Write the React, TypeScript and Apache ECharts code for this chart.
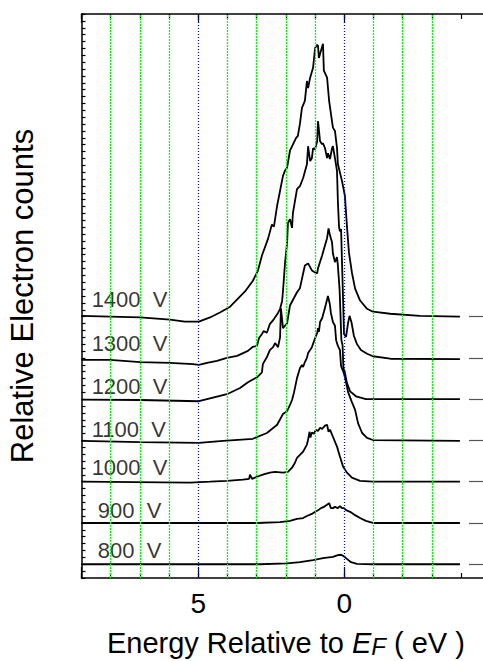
import React, { useEffect, useRef } from 'react';
import * as echarts from 'echarts';

// Accelerating voltages (bottom to top)
const voltages = ['800', '900', '1000', '1100', '1200', '1300', '1400'];
const labelTexts = [
  '\u00a0800\u00a0\u00a0V',
  '\u00a0900\u00a0\u00a0V',
  '1000\u00a0\u00a0V',
  '1100\u00a0\u00a0V',
  '1200\u00a0\u00a0V',
  '1300\u00a0\u00a0V',
  '1400\u00a0\u00a0V',
];
// label height above each baseline (relative counts)
const labelHeights = [33, 31, 34, 27, 30, 34, 41];

// Spectra: [energy relative to E_F (eV), relative counts above own baseline]
const s800 = [[9.0,0],[2.89,0],[1.96,2],[1.52,5],[1.07,10],[0.73,15],[0.39,18],[0.22,22],[0.11,23],[0.01,19],[-0.09,13],[-0.23,5],[-0.43,1],[-0.98,0],[-3.96,0]];
const s900 = [[9.0,0],[2.99,0],[2.2,2],[1.86,5],[1.62,10],[1.41,12],[1.28,17],[1.11,22],[1.0,27],[0.9,31],[0.8,36],[0.7,39],[0.59,44],[0.52,48],[0.46,36],[0.39,36],[0.32,39],[0.22,36],[0.15,41],[0.08,36],[0.01,36],[-0.06,31],[-0.2,27],[-0.37,19],[-0.54,12],[-0.74,5],[-0.98,0],[-3.96,0]];
const s1000 = [[9.0,0],[5.28,-2],[4.6,0],[4.02,2],[3.47,5],[3.26,7],[3.23,17],[3.16,7],[2.99,12],[2.79,17],[2.55,22],[2.37,24],[2.1,22],[1.93,24],[1.79,34],[1.69,46],[1.62,58],[1.52,65],[1.41,73],[1.28,90],[1.24,102],[1.19,121],[1.16,107],[1.11,119],[1.04,116],[0.97,126],[0.9,123],[0.83,131],[0.76,128],[0.66,136],[0.59,138],[0.54,121],[0.49,126],[0.39,109],[0.25,85],[0.15,61],[0.04,36],[-0.09,22],[-0.26,10],[-0.54,2],[-0.98,0],[-3.96,0]];
const s1100 = [[9.0,-1],[6.99,-4],[4.98,-6],[4.15,-1],[3.13,4],[2.65,18],[2.3,38],[2.1,64],[1.96,71],[1.86,86],[1.79,98],[1.72,117],[1.62,151],[1.52,175],[1.45,183],[1.41,178],[1.35,190],[1.28,200],[1.24,212],[1.17,219],[1.11,226],[1.0,248],[0.93,260],[0.9,272],[0.87,263],[0.83,287],[0.76,296],[0.7,311],[0.63,330],[0.56,350],[0.52,338],[0.49,328],[0.46,309],[0.39,287],[0.32,278],[0.28,243],[0.22,229],[0.15,219],[0.11,180],[0.04,168],[-0.02,154],[-0.13,117],[-0.26,93],[-0.37,74],[-0.47,42],[-0.61,18],[-0.78,6],[-0.98,1],[-3.96,-1]];
const s1200 = [[9.0,-1],[6.99,-2],[4.98,-5],[4.6,2],[4.02,12],[3.57,27],[3.3,41],[2.99,53],[2.82,65],[2.79,85],[2.65,102],[2.55,119],[2.44,126],[2.37,136],[2.27,126],[2.2,150],[2.17,220],[2.1,172],[1.96,184],[1.86,227],[1.62,259],[1.52,269],[1.35,324],[1.24,329],[1.11,312],[1.0,307],[0.93,305],[0.9,317],[0.76,348],[0.66,373],[0.59,390],[0.54,414],[0.49,397],[0.42,380],[0.39,353],[0.32,332],[0.25,344],[0.22,324],[0.16,264],[0.13,203],[0.1,143],[0.06,131],[0.03,75],[-0.01,68],[-0.09,39],[-0.2,19],[-0.4,7],[-0.74,0],[-3.96,0]];
const s1300 = [[9.0,-5],[8.02,-5],[6.99,-10],[5.97,-12],[5.18,-15],[4.98,-17],[4.7,-12],[4.36,-7],[4.02,0],[3.67,5],[3.3,17],[3.13,27],[2.99,29],[2.92,48],[2.82,58],[2.76,65],[2.65,61],[2.55,82],[2.41,94],[2.27,109],[2.2,119],[2.13,138],[2.1,162],[2.03,230],[1.96,278],[1.93,327],[1.86,336],[1.79,315],[1.76,351],[1.62,409],[1.52,416],[1.41,436],[1.28,469],[1.24,513],[1.17,477],[1.11,484],[1.07,508],[1.0,506],[0.93,525],[0.9,574],[0.83,525],[0.76,518],[0.73,520],[0.66,508],[0.59,484],[0.56,496],[0.49,482],[0.42,508],[0.39,513],[0.32,484],[0.25,453],[0.22,380],[0.18,317],[0.15,307],[0.11,312],[0.08,235],[0.04,138],[0.01,58],[-0.06,51],[-0.13,85],[-0.18,102],[-0.25,85],[-0.33,53],[-0.43,34],[-0.57,19],[-0.78,10],[-0.98,4],[-1.57,-2],[-3.96,-3]];
const s1400 = [[9.0,2],[8.02,0],[6.99,-2],[5.97,-7],[5.46,-12],[4.98,-12],[4.6,-2],[4.26,10],[3.91,24],[3.4,61],[3.13,87],[2.96,111],[2.82,148],[2.61,189],[2.48,223],[2.41,218],[2.3,269],[2.2,305],[2.1,341],[2.03,354],[1.96,361],[1.86,402],[1.65,433],[1.59,438],[1.52,467],[1.45,506],[1.35,523],[1.28,571],[1.24,554],[1.17,579],[1.07,603],[1.0,651],[0.93,659],[0.9,656],[0.87,627],[0.8,644],[0.73,661],[0.7,596],[0.59,579],[0.52,523],[0.39,458],[0.32,450],[0.25,409],[0.22,370],[0.08,329],[-0.02,293],[-0.09,220],[-0.16,155],[-0.26,107],[-0.37,68],[-0.54,39],[-0.78,19],[-0.98,12],[-1.57,7],[-2.59,2],[-3.96,0]];

const spectra = [s800, s900, s1000, s1100, s1200, s1300, s1400];

// Reference grid lines (eV)
const gridGreen = [8, 7, 6, 4, 3, 2, 1, -1, -2, -3];
const gridBlue = [5, 0];
const xTickLabels = [5, 0];

// baseline markers on the right (eV)
const markerStart = -4.27;
const markerEnd = -5;

// vertical offset: baseline of spectrum i in axis units (ticks), counts -> ticks
const baseOffset = 2;
const offsetStep = 6;
const countScale = 0.06;
const toY = (i: number, h: number) => baseOffset + offsetStep * i + h * countScale;

const FONT = '"Liberation Sans", Arial, Helvetica, sans-serif';

function gridLineSeries(values: number[], color: string, dash: number[], width: number) {
  return {
    type: 'line',
    xAxisIndex: 0,
    yAxisIndex: 0,
    data: [],
    silent: true,
    z: 1,
    markLine: {
      symbol: 'none',
      silent: true,
      animation: false,
      label: { show: false },
      lineStyle: { color, type: dash, width, opacity: 1 },
      emphasis: { disabled: true },
      data: values.map((v) => ({ xAxis: v })),
    },
  };
}

export default function App() {
  const ref = useRef<HTMLDivElement>(null);

  useEffect(() => {
    if (!ref.current) return;
    const chart = echarts.init(ref.current, undefined, { renderer: 'svg' });

    const lineSeries = spectra.map((s, i) => ({
      type: 'line',
      name: voltages[i] + ' V',
      xAxisIndex: 0,
      yAxisIndex: 0,
      showSymbol: false,
      symbol: 'none',
      silent: true,
      z: 3,
      data: s.map(([e, h]) => [e, toY(i, h)]),
      lineStyle: { color: '#000', width: 1.8 },
      markLine: {
        symbol: 'none',
        silent: true,
        label: { show: false },
        lineStyle: { color: '#555', width: 1.2, type: 'solid' },
        data: [[{ coord: [markerStart, toY(i, 0)] }, { coord: [markerEnd, toY(i, 0)] }]],
      },
    }));

    const labelSeries = {
      type: 'scatter',
      xAxisIndex: 0,
      yAxisIndex: 0,
      symbolSize: 1,
      silent: true,
      itemStyle: { color: 'rgba(0,0,0,0)' },
      z: 4,
      data: voltages.map((v, i) => ({
        value: [8.67, toY(i, labelHeights[i])],
        label: {
          show: true,
          position: 'right',
          distance: 0,
          formatter: labelTexts[i],
          fontSize: 22,
          fontFamily: FONT,
          color: '#000',
          verticalAlign: 'middle',
        },
      })),
    };

    const axisLineStyle = { color: '#000', width: 1.5 };
    const tickStyle = { color: '#000', width: 1.2 };

    chart.setOption({
      animation: false,
      backgroundColor: '#fff',
      grid: {
        left: 81.5, right: 0.7, top: 14, bottom: 83,
        containLabel: false,
        outerBoundsMode: 'none',
      },
      xAxis: [
        {
          type: 'value', position: 'bottom', min: -5, max: 9, interval: 1, inverse: true,
          axisLine: { show: true, onZero: false, lineStyle: axisLineStyle },
          axisTick: { show: true, inside: true, length: 5, interval: 0, lineStyle: tickStyle },
          axisLabel: { show: false },
          splitLine: { show: false },
          name: '{a|Energy Relative to\u00a0}{i|E}{s|F}{a|\u00a0( eV )}',
          nameLocation: 'middle',
          nameGap: 50,
          nameTextStyle: {
            rich: {
              a: { fontSize: 29, fontFamily: FONT, color: '#000', lineHeight: 30, verticalAlign: 'top' },
              i: { fontSize: 29, fontFamily: FONT, fontStyle: 'italic', color: '#000', lineHeight: 30, verticalAlign: 'top' },
              s: { fontSize: 24, fontFamily: FONT, fontStyle: 'italic', color: '#000', lineHeight: 24, verticalAlign: 'top', padding: [6, 0, 0, 0] },
            },
          },
        },
        {
          type: 'value', position: 'bottom', min: -5, max: 9, interval: 5, inverse: true,
          axisLine: { show: false, onZero: false },
          axisTick: { show: true, inside: true, length: 11, interval: 0, lineStyle: tickStyle },
          axisLabel: {
            show: true, margin: 11, fontSize: 28, fontFamily: FONT, color: '#000',
            formatter: (v: number) => (xTickLabels.includes(v) ? String(v) : ''),
          },
          splitLine: { show: false },
        },
        {
          type: 'value', position: 'top', min: -5, max: 9, interval: 1, inverse: true,
          axisLine: { show: true, onZero: false, lineStyle: axisLineStyle },
          axisTick: { show: true, inside: true, length: 5, interval: 0, lineStyle: tickStyle },
          axisLabel: { show: false },
          splitLine: { show: false },
        },
        {
          type: 'value', position: 'top', min: -5, max: 9, interval: 5, inverse: true,
          axisLine: { show: false, onZero: false },
          axisTick: { show: true, inside: true, length: 9, interval: 0, lineStyle: tickStyle },
          axisLabel: { show: false },
          splitLine: { show: false },
        },
      ],
      yAxis: {
        type: 'value', min: 0, max: 82, interval: 1,
        axisLine: { show: true, onZero: false, lineStyle: axisLineStyle },
        axisTick: { show: true, inside: true, length: 4, interval: 0, lineStyle: tickStyle },
        axisLabel: { show: false },
        splitLine: { show: false },
        name: 'Relative Electron counts',
        nameLocation: 'middle',
        nameRotate: 90,
        nameGap: 44,
        nameTextStyle: { fontSize: 31, fontFamily: FONT, color: '#000' },
      },
      series: [
        gridLineSeries(gridGreen, '#00ff00', [2, 1], 1.3),
        gridLineSeries(gridBlue, '#0000ff', [1, 2], 1.2),
        ...lineSeries,
        labelSeries,
      ],
    });

    return () => chart.dispose();
  }, []);

  return (
    <div style={{ position: 'fixed', left: 0, top: 0, width: 483, height: 661, overflow: 'hidden', background: '#fff' }}>
      <div ref={ref} style={{ width: 491, height: 661 }} />
    </div>
  );
}
